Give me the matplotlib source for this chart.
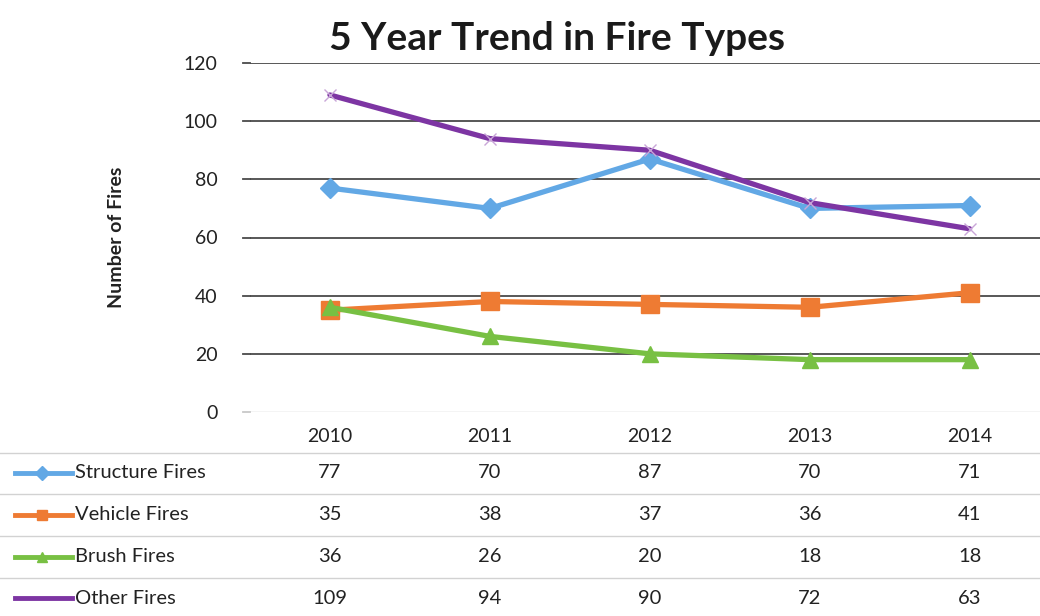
import matplotlib
matplotlib.use("Agg")
import matplotlib.pyplot as plt
from matplotlib.lines import Line2D
import matplotlib.transforms as mtransforms

plt.rcParams['font.family'] = ['Lato', 'DejaVu Sans']

years = ['2010', '2011', '2012', '2013', '2014']
series_names = ['Structure Fires', 'Vehicle Fires', 'Brush Fires', 'Other Fires']
structure = [77, 70, 87, 70, 71]
vehicle = [35, 38, 37, 36, 41]
brush = [36, 26, 20, 18, 18]
other = [109, 94, 90, 72, 63]
all_values = [structure, vehicle, brush, other]

colors = ['#62a8e5', '#ee7b33', '#78c043', '#7d35a3']
markers = ['D', 's', '^', 'x']
msizes = [10, 13, 12, 8]
mcolors = ['#62a8e5', '#ee7b33', '#78c043', '#c9a6d8']

W, H = 1040, 616
fig = plt.figure(figsize=(W / 100, H / 100), dpi=100)
ax = fig.add_axes([250 / W, 1 - 412 / H, 1 - 250 / W, (412 - 63) / H])

x = list(range(len(years)))
for vals, c, m, ms, mc in zip(all_values, colors, markers, msizes, mcolors):
    ax.plot(x, vals, color=c, lw=3.8, marker=m, ms=ms, mec=mc, mfc=mc,
            mew=1.0, solid_capstyle='round', zorder=3)

ax.set_ylim(0, 120)
ax.set_xlim(-0.5, 4.44)
ax.set_yticks(range(0, 121, 20))
for yv in range(20, 121, 20):
    ax.axhline(yv, color='#4a4a4a', lw=1.3, zorder=1)
ax.axhline(0, color='#c8c8c8', lw=1.0, zorder=1)
ax.set_xticks([])
for s in ax.spines.values():
    s.set_visible(False)
ax.tick_params(axis='y', length=0, pad=23.5, labelsize=14, labelcolor='#222222')
ax.set_ylabel('Number of Fires', fontsize=14, fontweight='bold', labelpad=42, color='#222222')
# short stubs to the left of the plot area
for yv in range(0, 121, 20):
    ax.plot([-0.545, -0.5], [yv, yv], color='#4a4a4a' if yv else '#c8c8c8', lw=1.3,
            clip_on=False, zorder=1)

fig.text(557 / W, 1 - 38 / H, '5 Year Trend in Fire Types', fontsize=28,
         fontweight='bold', ha='center', va='center', color='#1a1a1a')

# data table below the plot
trans = mtransforms.blended_transform_factory(ax.transData, fig.transFigure)
for i, yr in enumerate(years):
    ax.text(i, 1 - 437 / H, yr, transform=trans, ha='center', va='center',
            fontsize=14, color='#222222')

row_y = [473, 515, 557, 598]
line_y = [453, 494, 536, 578]
for ly in line_y:
    fig.add_artist(Line2D([0, 1], [1 - ly / H, 1 - ly / H], transform=fig.transFigure,
                          color='#d2d2d2', lw=1.0))

for name, vals, c, m, ry in zip(series_names, all_values, colors, markers, row_y):
    yf = 1 - ry / H
    fig.add_artist(Line2D([15 / W, 72 / W], [yf, yf], transform=fig.transFigure,
                          color=c, lw=3.5))
    if m != 'x':
        fig.add_artist(Line2D([42 / W], [yf], transform=fig.transFigure, color=c,
                              marker=m, ms=7, mfc=c, mec=c, lw=0))
    fig.text(75 / W, yf, name, fontsize=14.5, ha='left', va='center', color='#222222')
    for i, v in enumerate(vals):
        ax.text(i, yf, str(v), transform=trans, ha='center', va='center',
                fontsize=14.5, color='#222222')

fig.savefig('out.png', dpi=100)
